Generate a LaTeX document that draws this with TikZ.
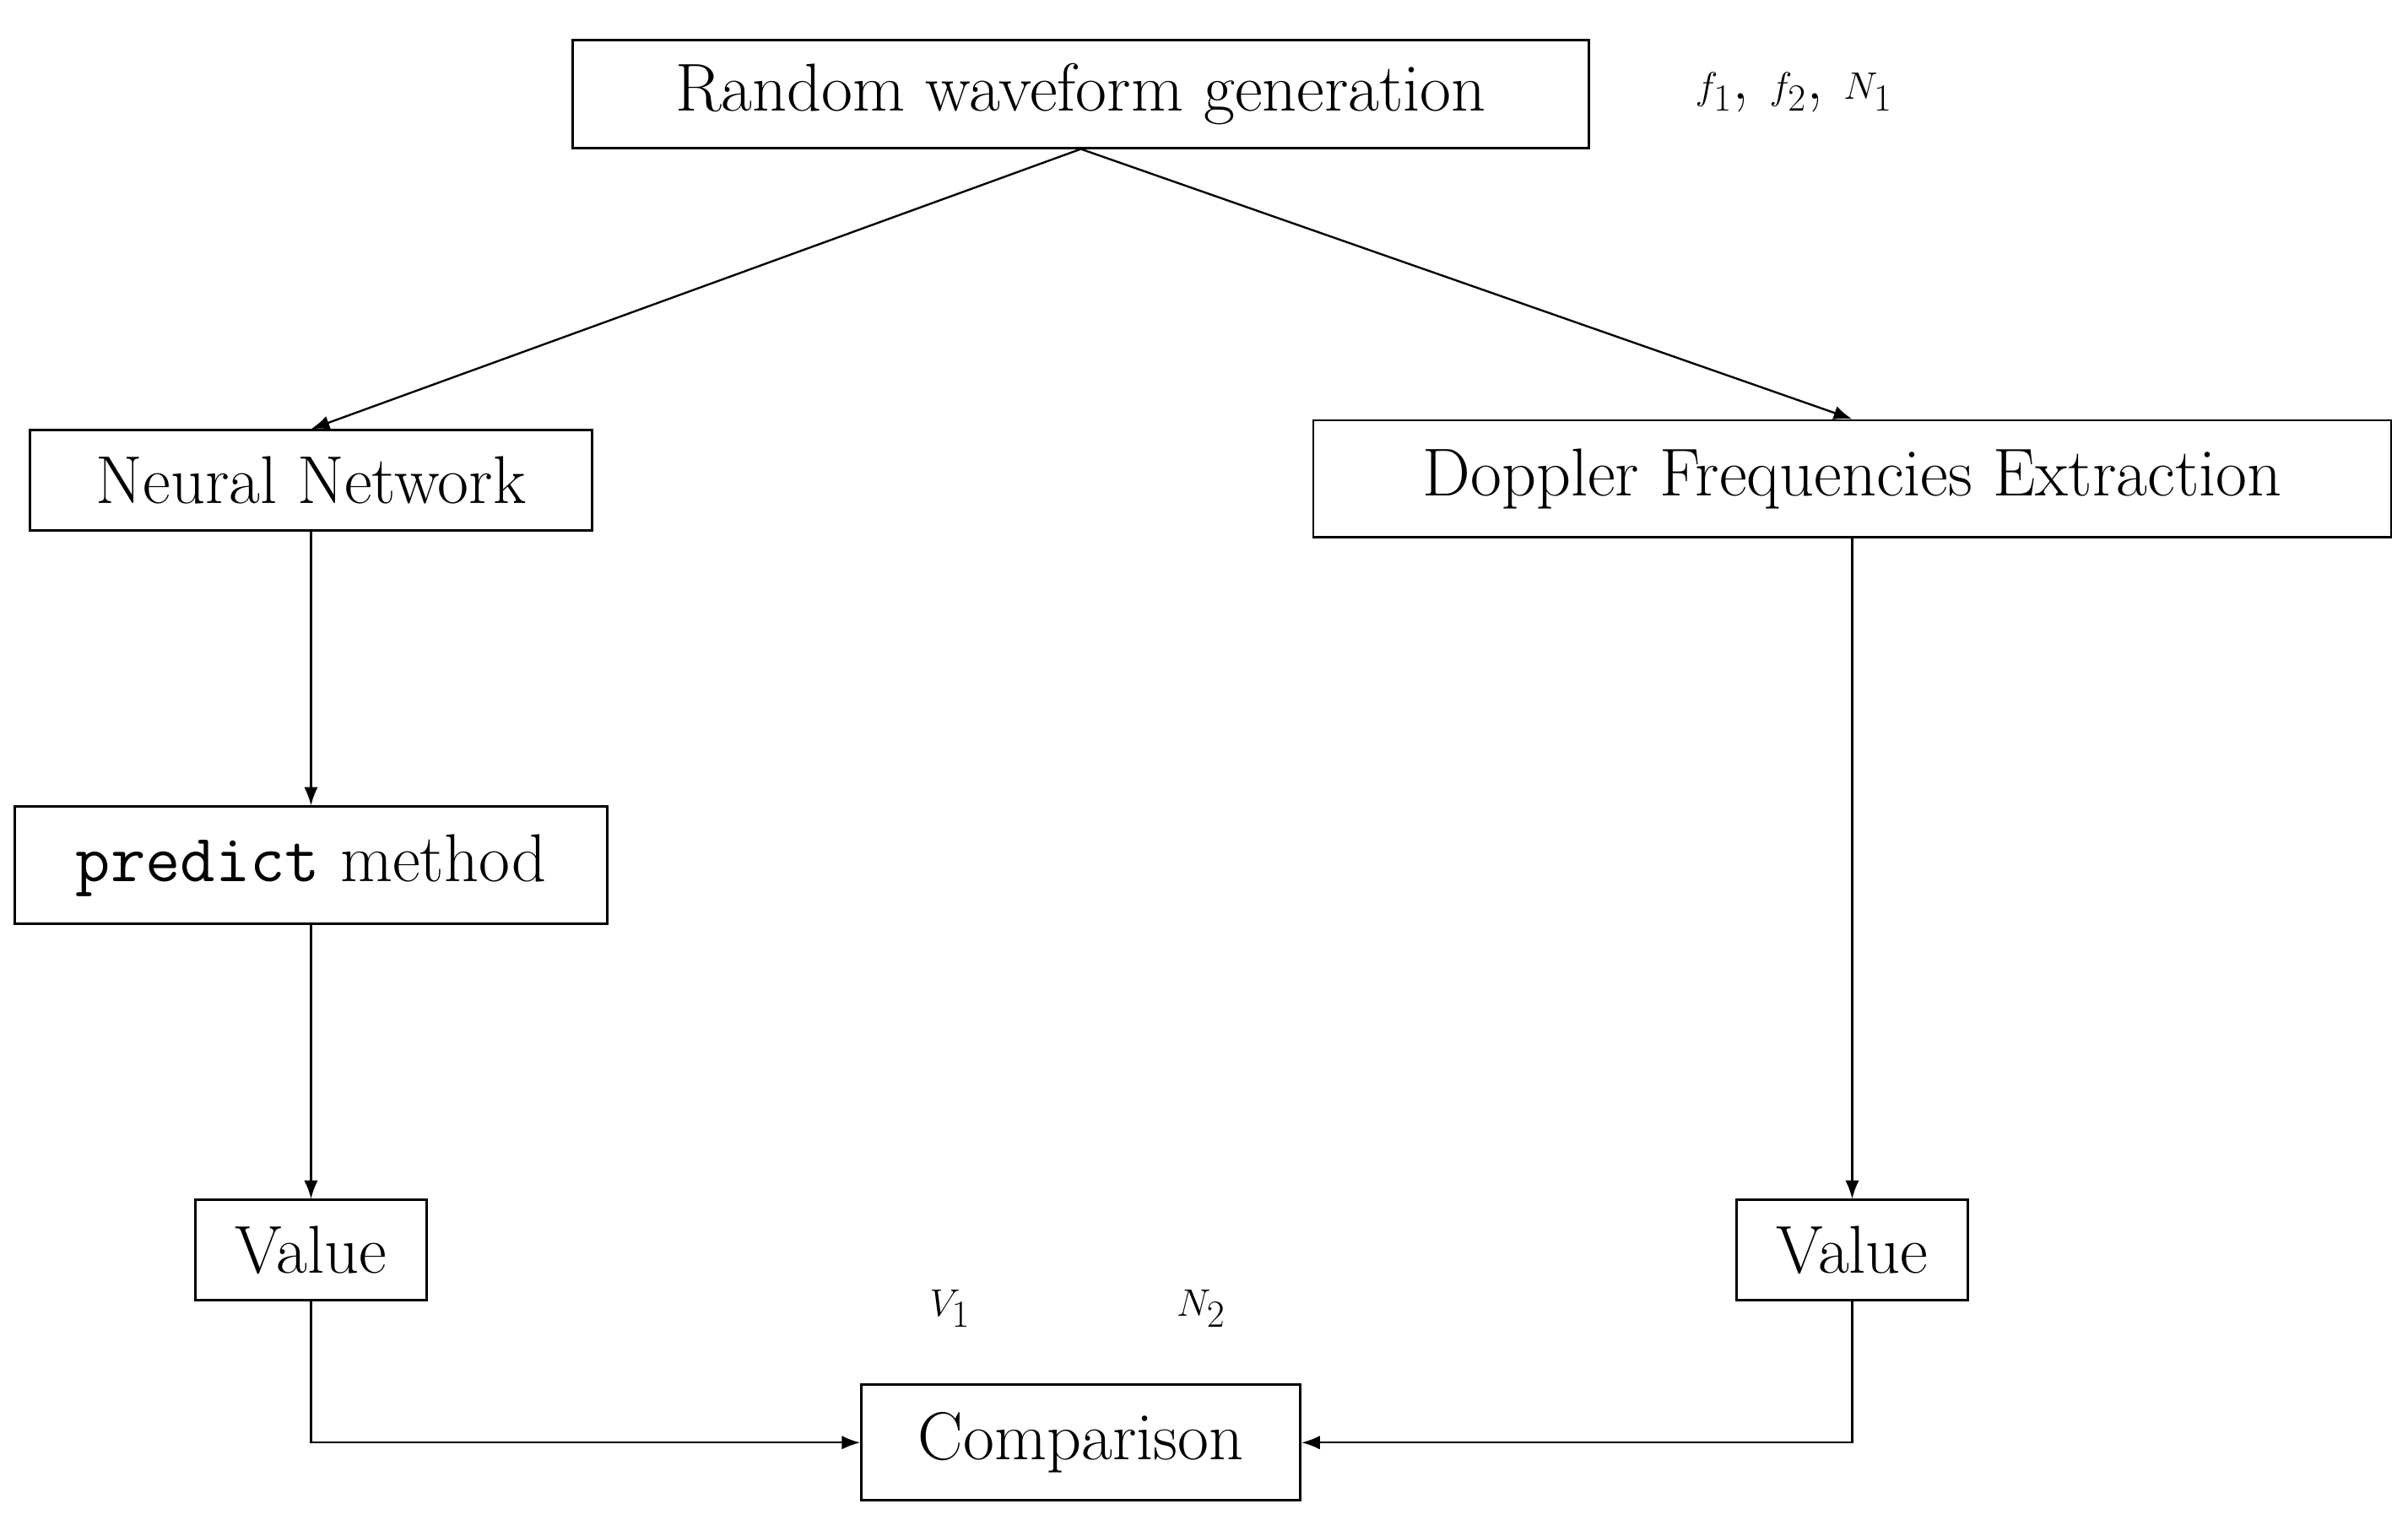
\documentclass[tikz,border=0pt]{standalone}
\usetikzlibrary{arrows.meta}
\begin{document}
\begin{tikzpicture}[x=1pt,y=-1pt,
  box/.style={draw,line width=1.6pt,minimum height=70pt,inner sep=0pt,font=\fontsize{44}{52}\selectfont},
  lab/.style={font=\fontsize{44}{52}\selectfont},
  arr/.style={line width=1.3pt,-{Latex[length=12pt,width=9pt]}}]
\useasboundingbox (0,0) rectangle (1564,987);
\node[box,minimum width=660pt] (rw) at (702,61) {Random waveform generation};
\node[lab] (p) at (1165,60) {$f_1$, $f_2$, $N_1$};
\node[box,minimum width=365pt,minimum height=65pt] (nn) at (202,312) {Neural Network};
\node[box,minimum width=700pt,minimum height=76pt] (dp) at (1203,311) {Doppler Frequencies Extraction};
\node[box,minimum width=385pt,minimum height=76pt] (pm) at (202,562) {\texttt{predict} method};
\node[box,minimum width=150pt,minimum height=65pt] (v1) at (202,812) {Value};
\node[box,minimum width=150pt,minimum height=65pt] (v2) at (1203,812) {Value};
\node[box,minimum width=285pt,minimum height=75pt] (cmp) at (702,937) {Comparison};
\node[lab] (V) at (617,850) {$V_1$};
\node[lab] (N) at (780,850) {$N_2$};
\draw[arr] (rw.south) -- (nn.north);
\draw[arr] (rw.south) -- (dp.north);
\draw[arr] (nn) -- (pm);
\draw[arr] (pm) -- (v1);
\draw[arr] (dp) -- (v2);
\draw[arr] (v1.south) |- (cmp.west);
\draw[arr] (v2.south) |- (cmp.east);
\end{tikzpicture}
\end{document}
